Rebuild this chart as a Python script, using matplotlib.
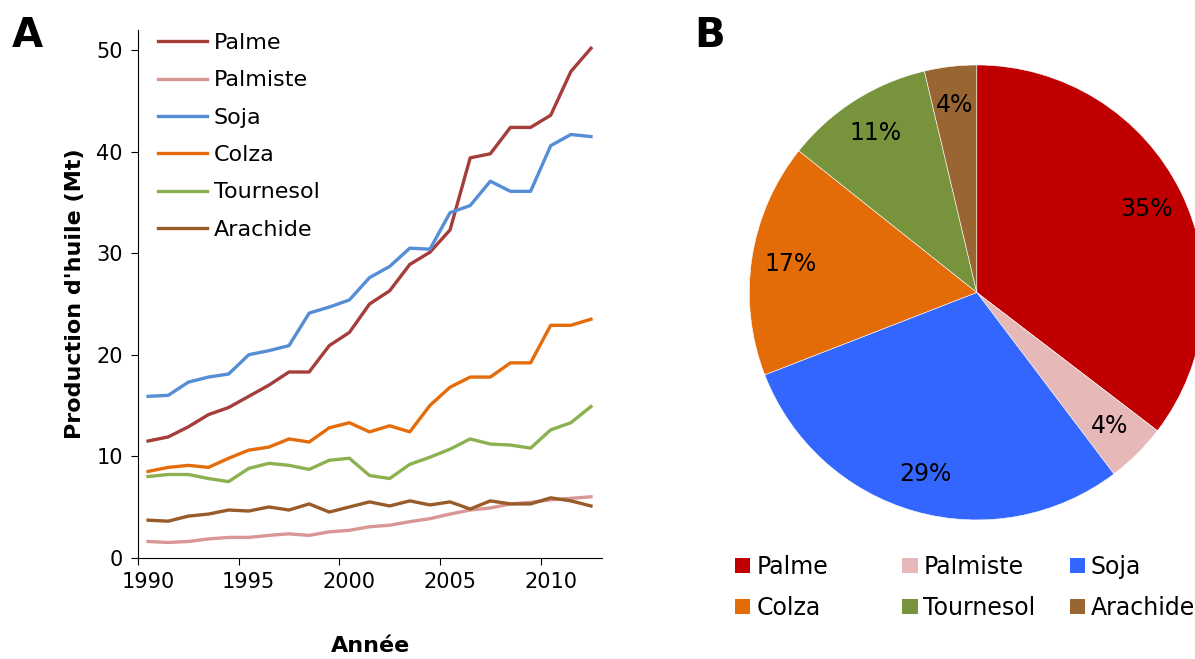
import numpy as np
import matplotlib
matplotlib.use("Agg")
import matplotlib.pyplot as plt
from matplotlib.patches import Patch

plt.rcParams['font.family'] = ['DejaVu Sans']

## data (Mt), 1990 - 2012
years = np.arange(1990, 2013)
palme = [11.5, 11.9, 12.9, 14.1, 14.8, 15.9, 17.0, 18.3, 18.3, 20.9, 22.2, 25.0,
         26.3, 28.9, 30.1, 32.3, 39.4, 39.8, 42.4, 42.4, 43.6, 47.9, 50.2]
palmiste = [1.6, 1.5, 1.6, 1.85, 2.0, 2.0, 2.2, 2.35, 2.2, 2.55, 2.7, 3.05,
            3.2, 3.55, 3.85, 4.3, 4.7, 4.9, 5.3, 5.45, 5.7, 5.85, 6.0]
soja = [15.9, 16.0, 17.3, 17.8, 18.1, 20.0, 20.4, 20.9, 24.1, 24.7, 25.4, 27.6,
        28.7, 30.5, 30.4, 34.0, 34.7, 37.1, 36.1, 36.1, 40.6, 41.7, 41.5]
colza = [8.5, 8.9, 9.1, 8.9, 9.8, 10.6, 10.9, 11.7, 11.4, 12.8, 13.3, 12.4,
         13.0, 12.4, 15.0, 16.8, 17.8, 17.8, 19.2, 19.2, 22.9, 22.9, 23.5]
tournesol = [8.0, 8.2, 8.2, 7.8, 7.5, 8.8, 9.3, 9.1, 8.7, 9.6, 9.8, 8.1,
             7.8, 9.2, 9.9, 10.7, 11.7, 11.2, 11.1, 10.8, 12.6, 13.3, 14.9]
arachide = [3.7, 3.6, 4.1, 4.3, 4.7, 4.6, 5.0, 4.7, 5.3, 4.5, 5.0, 5.5,
            5.1, 5.6, 5.2, 5.5, 4.8, 5.6, 5.3, 5.3, 5.9, 5.6, 5.1]

names = ['Palme', 'Palmiste', 'Soja', 'Colza', 'Tournesol', 'Arachide']
line_colors = ['#A53D3B', '#D99694', '#558ED5', '#E46C0A', '#8DB050', '#985B2A']
pie_colors = ['#C00000', '#E6B9B8', '#3366FF', '#E36C09', '#77933C', '#996633']
pie_shares = [35.4, 4.3, 29.4, 16.6, 10.6, 3.7]  # % en 2012

fig = plt.figure(figsize=(11.95, 6.59), dpi=100)

## A : courbes
ax = fig.add_axes([0.1155, 0.1537, 0.3883, 0.8008])
series = [palme, palmiste, soja, colza, tournesol, arachide]
for s, n, c in zip(series, names, line_colors):
    ax.plot(years, s, color=c, lw=2.4, label=n)

ax.set_xlim(1989.5, 2012.55)
ax.set_ylim(0, 52)
ax.set_yticks(range(0, 51, 10))
ax.set_xticks(np.arange(1989.5, 2012, 5))
ax.set_xticklabels([])
ax.set_xticks(np.arange(1990, 2013, 5), minor=True)
ax.set_xticklabels([str(y) for y in range(1990, 2013, 5)], minor=True)
ax.tick_params(axis='x', which='minor', length=0, labelsize=15, pad=10)
ax.tick_params(axis='x', which='major', length=5, direction='out')
ax.tick_params(axis='y', length=5, labelsize=15, pad=6)
ax.spines['top'].set_visible(False)
ax.spines['right'].set_visible(False)
ax.set_ylabel("Production d'huile (Mt)", fontsize=16, fontweight='bold', labelpad=8)
ax.set_xlabel("Année", fontsize=16, fontweight='bold', labelpad=32)
ax.legend(loc='upper left', bbox_to_anchor=(0.0, 1.032), frameon=False, fontsize=16,
          handlelength=2.2, handletextpad=0.3, labelspacing=0.78)
fig.text(0.010, 0.929, 'A', fontsize=29, fontweight='bold')

## B : camembert
ax2 = fig.add_axes([0.627, 0.211, 0.3808, 0.6904])
wedges, texts, autotexts = ax2.pie(pie_shares, colors=pie_colors, startangle=90,
                                   counterclock=False, autopct='%.0f%%',
                                   pctdistance=0.83,
                                   wedgeprops=dict(edgecolor='white', linewidth=0.4),
                                   textprops=dict(fontsize=17))
ax2.set_xlim(-1, 1)
ax2.set_ylim(-1, 1)
fig.text(0.581, 0.929, 'B', fontsize=29, fontweight='bold')

# légende en 3 colonnes régulières
for col, x0 in enumerate([0.615, 0.755, 0.895]):
    idx = [col, col + 3]
    handles = [Patch(facecolor=pie_colors[i], label=names[i]) for i in idx]
    fig.legend(handles=handles, loc='upper left', bbox_to_anchor=(x0, 0.158),
               frameon=False, fontsize=17, handlelength=0.65, handleheight=0.65,
               handletextpad=0.25, labelspacing=0.72, borderpad=0, borderaxespad=0)

fig.savefig('out.png', dpi=100)
